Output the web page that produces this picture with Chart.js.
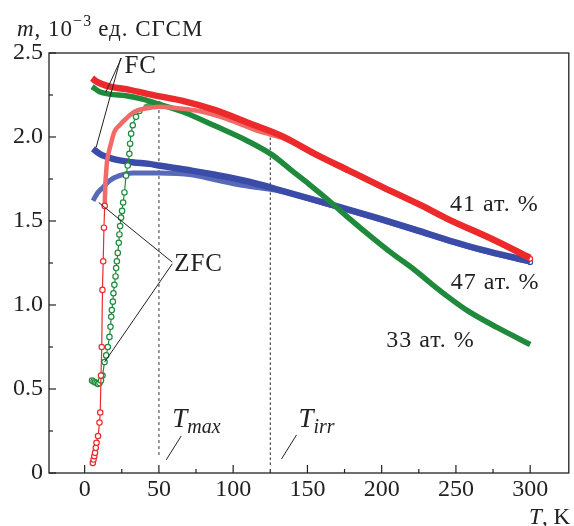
<!DOCTYPE html>
<html lang="ru">
<head>
<meta charset="UTF-8">
<title>m(T)</title>
<script src="https://cdn.jsdelivr.net/npm/chart.js@4.4.1/dist/chart.umd.min.js"></script>
<style>
  body { margin: 0; background: #fff; }
  canvas { display: block; }
</style>
</head>
<body>
<canvas id="canvasMagnetizacao" width="574" height="526" style="width:574px;height:526px"></canvas>
<script>
    // Eixos
    const xTicks = [0, 50, 100, 150, 200, 250, 300];
    const xMinor = [25, 75, 125, 175, 225, 275];
    const yTicks = [0, 0.5, 1.0, 1.5, 2.0, 2.5];
    const yMinor = [0.25, 0.75, 1.25, 1.75, 2.25];

    // 41 ат. % (vermelho)
    const tRedFC = [5, 8, 17, 28, 43, 66, 88, 110, 133, 155, 178, 200, 225, 245, 275, 300];
    const mRedFC = [2.35, 2.33, 2.30, 2.285, 2.255, 2.215, 2.16, 2.085, 2.005, 1.90, 1.80, 1.705, 1.60, 1.51, 1.39, 1.28];
    const tRedZFC = [5.5, 6, 6.5, 7, 7.5, 8, 9, 10, 10.5, 11, 11.5, 12, 12.5, 13, 13.5, 14, 14.5, 15, 16, 18, 20, 23.5, 28, 33.5, 41, 50, 64, 77, 90, 104, 117, 125, 133, 155, 178, 200, 225, 245, 275, 300];
    const mRedZFC = [0.06, 0.08, 0.10, 0.12, 0.15, 0.18, 0.22, 0.30, 0.36, 0.58, 0.75, 1.09, 1.26, 1.46, 1.59, 1.73, 1.79, 1.85, 1.90, 1.97, 2.03, 2.07, 2.11, 2.15, 2.17, 2.18, 2.17, 2.155, 2.125, 2.08, 2.035, 2.015, 1.995, 1.895, 1.795, 1.70, 1.595, 1.505, 1.385, 1.275];

    // 33 ат. % (verde)
    const tGreenFC = [5, 10, 17, 28, 39, 50, 66, 88, 110, 126, 139.5, 151, 164, 177.5, 193, 206.5, 222, 233, 244.5, 258, 278, 300];
    const mGreenFC = [2.30, 2.27, 2.255, 2.245, 2.225, 2.195, 2.15, 2.065, 1.975, 1.895, 1.80, 1.72, 1.625, 1.52, 1.405, 1.31, 1.21, 1.13, 1.05, 0.965, 0.865, 0.765];
    const tGreenZFC = [5, 6, 7, 8, 9, 10, 11, 12, 13.4, 14.5, 15.6, 16.7, 17.4, 17.9, 18.3, 19, 19.4, 20, 20.8, 21.2, 21.7, 22.3, 23, 23.4, 23.9, 24.5, 25.2, 25.9, 26.8, 27.9, 29, 30.1, 30.6, 31.3, 32.4, 34.6, 36.8, 40.2, 44.7, 50];
    const mGreenZFC = [0.55, 0.545, 0.54, 0.535, 0.53, 0.535, 0.55, 0.58, 0.66, 0.70, 0.75, 0.81, 0.87, 0.93, 0.97, 1.02, 1.07, 1.12, 1.17, 1.22, 1.26, 1.31, 1.37, 1.42, 1.47, 1.52, 1.56, 1.61, 1.67, 1.77, 1.83, 1.90, 1.96, 2.02, 2.07, 2.12, 2.155, 2.18, 2.195, 2.195];

    // 47 ат. % (azul)
    const tBlueFC = [5.6, 10, 19, 32, 43.5, 50, 72, 88, 110, 133, 169, 198, 222, 249, 267, 300];
    const mBlueFC = [1.93, 1.90, 1.87, 1.85, 1.84, 1.83, 1.80, 1.775, 1.735, 1.68, 1.59, 1.515, 1.45, 1.375, 1.33, 1.26];
    const tBlueZFC = [5.6, 8.9, 12.3, 16.7, 23.4, 32.4, 43.5, 50, 72, 88, 104, 124, 133, 169, 198, 222, 249, 267, 300];
    const mBlueZFC = [1.62, 1.67, 1.70, 1.74, 1.77, 1.785, 1.785, 1.785, 1.775, 1.745, 1.715, 1.69, 1.675, 1.585, 1.51, 1.445, 1.37, 1.325, 1.255];

    const VERMELHO = '#ec2a2c';
    const VERDE = '#1f8a3c';
    const AZUL = '#3a4ca8';
    const SERIF = '"Liberation Serif", "DejaVu Serif", serif';

    function pontos(ts, ms) {
        return ts.map((t, i) => ({ x: t, y: ms[i] }));
    }

    // raio dos circulos abertos so na parte de baixa temperatura
    function raio(limite) {
        return (c) => {
            if (!c.raw) return 0;
            if (c.dataIndex === c.dataset.data.length - 1) return 2.4;
            return c.raw.x < limite ? 2.7 : 0;
        };
    }

    function espessura(limite, fina, grossa) {
        return (c) => (c.p0.parsed.x < limite ? fina : grossa);
    }

    function cor(limite, escura, clara) {
        return (c) => (c.p0.parsed.x < limite ? escura : clara);
    }

    const dataM = {
        datasets: [
            {
                label: '41 FC',
                data: pontos(tRedFC, mRedFC),
                borderColor: VERMELHO,
                borderWidth: 6.5,
                pointRadius: 0,
                cubicInterpolationMode: 'monotone'
            },
            {
                label: '41 ZFC',
                data: pontos(tRedZFC, mRedZFC),
                borderColor: VERMELHO,
                pointBackgroundColor: '#fff',
                pointBorderColor: VERMELHO,
                pointBorderWidth: 1.2,
                pointRadius: raio(14),
                segment: {
                    borderWidth: espessura(13.5, 1.2, 4.5),
                    borderColor: cor(13.5, VERMELHO, '#f06a68')
                },
                cubicInterpolationMode: 'monotone'
            },
            {
                label: '33 FC',
                data: pontos(tGreenFC, mGreenFC),
                borderColor: VERDE,
                borderWidth: 5.5,
                pointRadius: 0,
                cubicInterpolationMode: 'monotone'
            },
            {
                label: '33 ZFC',
                data: pontos(tGreenZFC, mGreenZFC),
                borderColor: VERDE,
                pointBackgroundColor: '#fff',
                pointBorderColor: VERDE,
                pointBorderWidth: 1.2,
                pointRadius: raio(38),
                segment: {
                    borderWidth: espessura(38, 1.2, 4),
                    borderColor: cor(38, VERDE, '#4f9f62')
                },
                cubicInterpolationMode: 'monotone'
            },
            {
                label: '47 FC',
                data: pontos(tBlueFC, mBlueFC),
                borderColor: AZUL,
                borderWidth: 6.5,
                pointRadius: 0,
                cubicInterpolationMode: 'monotone'
            },
            {
                label: '47 ZFC',
                data: pontos(tBlueZFC, mBlueZFC),
                borderColor: '#5869b8',
                borderWidth: 5,
                pointBackgroundColor: '#fff',
                pointBorderColor: AZUL,
                pointBorderWidth: 1.2,
                pointRadius: raio(0),
                cubicInterpolationMode: 'monotone'
            }
        ]
    };

    function linha(ctx, x1, y1, x2, y2) {
        ctx.beginPath();
        ctx.moveTo(x1, y1);
        ctx.lineTo(x2, y2);
        ctx.stroke();
    }

    const desenho = {
        id: 'desenho',
        beforeDatasetsDraw(chart) {
            const { ctx } = chart;
            const sx = chart.scales.x, sy = chart.scales.y;
            ctx.save();
            // T_max
            ctx.strokeStyle = '#777';
            ctx.lineWidth = 1.5;
            ctx.setLineDash([3, 3]);
            linha(ctx, sx.getPixelForValue(50), sy.getPixelForValue(0.107), sx.getPixelForValue(50), sy.getPixelForValue(2.18));
            // T_irr
            ctx.strokeStyle = '#222';
            ctx.lineWidth = 1;
            ctx.setLineDash([2.5, 2.5]);
            linha(ctx, sx.getPixelForValue(125), sy.getPixelForValue(0.048), sx.getPixelForValue(125), sy.getPixelForValue(2.02));
            ctx.restore();
        },
        afterDraw(chart) {
            const { ctx, chartArea: a } = chart;
            const sx = chart.scales.x, sy = chart.scales.y;
            const px = (t) => sx.getPixelForValue(t);
            const py = (m) => sy.getPixelForValue(m);
            ctx.save();

            // moldura
            ctx.strokeStyle = '#222';
            ctx.lineWidth = 1.3;
            ctx.strokeRect(a.left, a.top, a.right - a.left, a.bottom - a.top);

            // tracos para dentro
            ctx.lineWidth = 1.2;
            xTicks.forEach(v => linha(ctx, px(v), a.bottom, px(v), a.bottom - 8));
            xMinor.forEach(v => linha(ctx, px(v), a.bottom, px(v), a.bottom - 4));
            yTicks.forEach(v => linha(ctx, a.left, py(v), a.left + 7, py(v)));
            yMinor.forEach(v => linha(ctx, a.left, py(v), a.left + 4, py(v)));

            // linhas indicadoras
            ctx.lineWidth = 1;
            linha(ctx, px(24.8), py(2.47), px(14.1), py(2.265));
            linha(ctx, px(24.3), py(2.47), px(7.8), py(1.94));
            linha(ctx, px(59), py(1.255), px(9.5), py(1.61));
            linha(ctx, px(59), py(1.245), px(13.4), py(0.66));
            linha(ctx, px(54.9), py(0.078), px(65), py(0.22));
            linha(ctx, px(132.6), py(0.084), px(142.7), py(0.227));

            // textos
            ctx.fillStyle = '#222';
            ctx.textBaseline = 'alphabetic';
            ctx.textAlign = 'left';
            ctx.letterSpacing = '1px';
            ctx.font = '25px ' + SERIF;
            ctx.fillText('FC', px(26.8), py(2.43) + 8);
            ctx.fillText('ZFC', px(60.3), py(1.25) + 8);
            ctx.font = '24px ' + SERIF;
            ctx.fillText('41 ат. %', px(246), py(1.605) + 8);
            ctx.fillText('47 ат. %', px(246.5), py(1.14) + 8);
            ctx.fillText('33 ат. %', px(203), py(0.80) + 8);

            // T_max, T_irr
            ctx.letterSpacing = '0px';
            const indice = (x, y, sub) => {
                ctx.font = 'italic 27px ' + SERIF;
                ctx.fillText('T', x, y);
                const w = ctx.measureText('T').width;
                ctx.font = 'italic 20px ' + SERIF;
                ctx.fillText(sub, x + w, y + 6);
            };
            indice(px(59), py(0.32) + 8, 'max');
            indice(px(144), py(0.32) + 8, 'irr');

            // titulo do eixo y
            const base = 36;
            let x = 17;
            ctx.letterSpacing = '1px';
            ctx.font = 'italic 23px ' + SERIF;
            ctx.fillText('m', x, base);
            x += ctx.measureText('m').width;
            ctx.font = '23px ' + SERIF;
            ctx.fillText(', 10', x, base);
            x += ctx.measureText(', 10').width;
            ctx.font = '16px ' + SERIF;
            ctx.fillText('\u22123', x, base - 10);
            x += ctx.measureText('\u22123').width + 6;
            ctx.font = '23px ' + SERIF;
            ctx.fillText('ед. СГСМ', x, base);

            // titulo do eixo x
            ctx.letterSpacing = '0px';
            ctx.textAlign = 'right';
            ctx.font = '23px ' + SERIF;
            ctx.fillText(', K', 570, 524);
            const wk = ctx.measureText(', K').width;
            ctx.font = 'italic 23px ' + SERIF;
            ctx.fillText('T', 570 - wk, 524);

            ctx.restore();
        }
    };

    const configM = {
        type: 'line',
        data: dataM,
        options: {
            responsive: false,
            animation: false,
            layout: { padding: { top: 53, right: 3, left: 0, bottom: 0 } },
            plugins: {
                legend: { display: false },
                tooltip: { enabled: false }
            },
            scales: {
                x: {
                    type: 'linear',
                    min: -24,
                    max: 326,
                    grid: { display: false, drawTicks: false },
                    border: { display: false },
                    afterBuildTicks: (s) => { s.ticks = xTicks.map(v => ({ value: v })); },
                    afterFit: (s) => { s.height = 53; },
                    ticks: {
                        color: '#222',
                        padding: 2,
                        maxRotation: 0,
                        autoSkip: false,
                        font: { family: SERIF, size: 24 }
                    }
                },
                y: {
                    type: 'linear',
                    min: 0,
                    max: 2.5,
                    grid: { display: false, drawTicks: false },
                    border: { display: false },
                    afterBuildTicks: (s) => { s.ticks = yTicks.map(v => ({ value: v })); },
                    afterFit: (s) => { s.width = 49; },
                    ticks: {
                        color: '#222',
                        padding: 6,
                        autoSkip: false,
                        font: { family: SERIF, size: 24 },
                        callback: (v) => (v === 0 ? '0' : v.toFixed(1))
                    }
                }
            }
        },
        plugins: [desenho]
    };

    const graficoM = new Chart(document.getElementById('canvasMagnetizacao'), configM);
</script>
</body>
</html>
